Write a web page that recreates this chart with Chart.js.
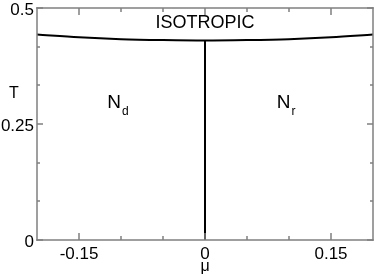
<!DOCTYPE html>
<html>
<head>
<meta charset="utf-8">
<script src="https://cdn.jsdelivr.net/npm/chart.js@4.4.1/dist/chart.umd.min.js"></script>
<style>
html,body{margin:0;padding:0;background:#fff;}
#wrap{width:374px;height:276px;}
</style>
</head>
<body>
<div id="wrap"><canvas id="c" width="374" height="276"></canvas></div>
<script>
// Data
const boundaryMu = [-0.2, -0.15, -0.1, -0.05, 0, 0.05, 0.1, 0.15, 0.2];
const boundaryT  = [0.443, 0.437, 0.433, 0.431, 0.430, 0.431, 0.433, 0.437, 0.443];
const verticalMu = [0, 0];
const verticalT  = [0, 0.430];
const xTickValues = [-0.15, 0, 0.15];
const xTickLabels = ['-0.15', '0', '0.15'];
const yTickValues = [0, 0.25, 0.5];
const yTickLabels = ['0', '0.25', '0.5'];
const xMinorTicks = [-0.1, -0.05, 0.05, 0.1];
const yMinorTicks = [0.25/3, 0.5/3, 1/3, 1.25/3];
const regionLabels = [
  {text: 'ISOTROPIC', mu: 0, T: 0.467, size: 18},
];
const phaseLabels = [
  {main: 'N', sub: 'd', mu: -0.1164, T: 0.296},
  {main: 'N', sub: 'r', mu: 0.0854, T: 0.296}
];

const FONT = '"Liberation Sans", Arial, Helvetica, sans-serif';
const AXIS_GREY = '#808080';

function drawFrame(chart) {
  const ctx = chart.ctx;
  const xs = chart.scales.x, ys = chart.scales.y;
  const L = Math.round(xs.left), R = Math.round(xs.right);
  const top = Math.round(ys.top), bot = Math.round(ys.bottom);
  const w = 1.5;
  ctx.save();
  ctx.fillStyle = AXIS_GREY;
  ctx.fillRect(L - 0.75, top - 0.75, R - L + 1.5, w);   // top
  ctx.fillRect(L - 0.75, bot - 0.75, R - L + 1.5, w);   // bottom
  ctx.fillRect(L - 0.75, top - 0.75, w, bot - top + 1.5); // left
  ctx.fillRect(R - 0.75, top - 0.75, w, bot - top + 1.5); // right
  xTickValues.concat(xMinorTicks).forEach(v => {
    const len = xTickValues.includes(v) ? 7 : 4;
    const p = Math.round(xs.getPixelForValue(v));
    ctx.fillRect(p - 0.75, bot - len, 1.5, len);
    ctx.fillRect(p - 0.75, top, 1.5, len);
  });
  yTickValues.concat(yMinorTicks).forEach(v => {
    const len = yTickValues.includes(v) ? 6 : 3;
    const p = Math.round(ys.getPixelForValue(v));
    ctx.fillRect(L, p - 0.75, len, 1.5);
    ctx.fillRect(R - len, p - 0.75, len, 1.5);
  });
  ctx.restore();
}

const decor = {
  id: 'decor',
  afterDraw(chart) {
    drawFrame(chart);
    const ctx = chart.ctx;
    const xs = chart.scales.x, ys = chart.scales.y;
    ctx.save();
    ctx.fillStyle = '#000';
    ctx.textAlign = 'center';
    ctx.textBaseline = 'middle';
    regionLabels.forEach(l => {
      ctx.font = l.size + 'px ' + FONT;
      ctx.fillText(l.text, xs.getPixelForValue(l.mu), ys.getPixelForValue(l.T));
    });
    phaseLabels.forEach(l => {
      const x = xs.getPixelForValue(l.mu), y = ys.getPixelForValue(l.T);
      ctx.textAlign = 'left';
      ctx.font = '19px ' + FONT;
      ctx.fillText(l.main, x, y);
      const w = ctx.measureText(l.main).width;
      ctx.font = '12px ' + FONT;
      ctx.fillText(l.sub, x + w + 1, y + 9);
    });
    ctx.textAlign = 'center';
    ctx.font = '16px ' + FONT;
    ctx.fillText('T', 14, 94);
    ctx.fillText('\u03bc', xs.getPixelForValue(0), 267);
    ctx.restore();
  }
};

new Chart(document.getElementById('c'), {
  type: 'scatter',
  data: {
    datasets: [
      {
        data: boundaryMu.map((m, i) => ({x: m, y: boundaryT[i]})),
        showLine: true, borderColor: '#000', borderWidth: 2,
        pointRadius: 0, cubicInterpolationMode: 'monotone'
      },
      {
        data: verticalMu.map((m, i) => ({x: m, y: verticalT[i]})),
        showLine: true, borderColor: '#000', borderWidth: 2, pointRadius: 0
      }
    ]
  },
  options: {
    responsive: false,
    animation: false,
    devicePixelRatio: 1,
    layout: {padding: {top: 4, right: 1, left: 0, bottom: 0}},
    plugins: {legend: {display: false}, tooltip: {enabled: false}},
    scales: {
      x: {
        type: 'linear', min: -0.2, max: 0.2,
        grid: {display: false, drawTicks: false},
        border: {display: false},
        afterBuildTicks: s => { s.ticks = xTickValues.map(v => ({value: v})); },
        afterFit: s => { s.height = 36; },
        ticks: {
          padding: 6, color: '#000', maxRotation: 0, autoSkip: false,
          font: {family: FONT, size: 17, lineHeight: 1},
          callback: (v) => { const i = xTickValues.indexOf(v); return i >= 0 ? xTickLabels[i] : ''; }
        }
      },
      y: {
        type: 'linear', min: 0, max: 0.5,
        grid: {display: false, drawTicks: false},
        border: {display: false},
        afterBuildTicks: s => { s.ticks = yTickValues.map(v => ({value: v})); },
        afterFit: s => { s.width = 37; },
        ticks: {
          padding: 3, color: '#000', autoSkip: false, labelOffset: 2,
          font: {family: FONT, size: 17, lineHeight: 0.6},
          callback: (v) => { const i = yTickValues.indexOf(v); return i >= 0 ? yTickLabels[i] : ''; }
        }
      }
    }
  },
  plugins: [decor]
});
</script>
</body>
</html>
